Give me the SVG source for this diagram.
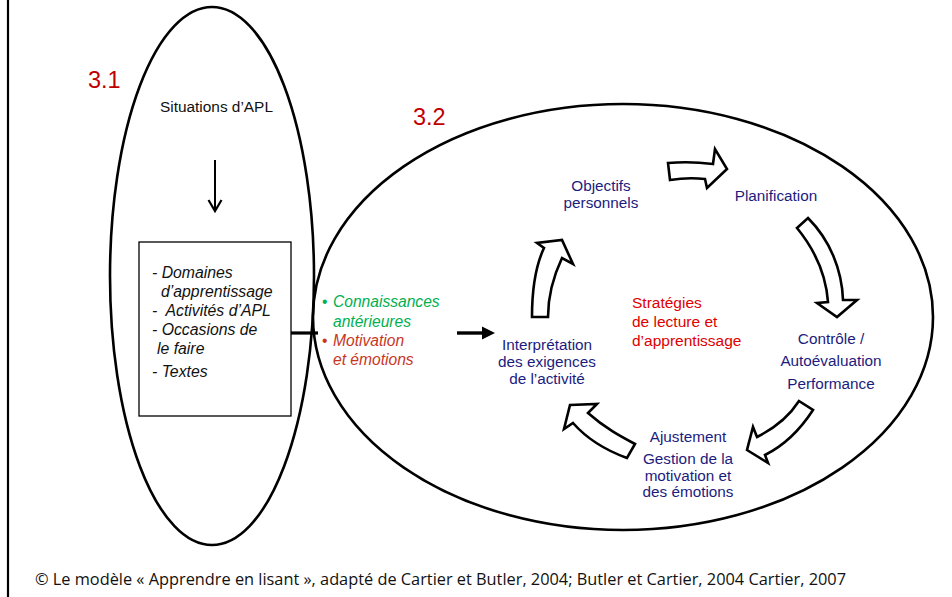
<svg xmlns="http://www.w3.org/2000/svg" width="952" height="597" viewBox="0 0 952 597">
<style>
.sans{font-family:"Liberation Sans",Arial,sans-serif}
.navy{fill:#1C1C80;font-size:15.3px;font-family:"Liberation Sans",Arial,sans-serif}
.red{fill:#E00000;font-size:15.5px;font-family:"Liberation Sans",Arial,sans-serif}
.num{fill:#C00000;font-size:23.5px;font-family:"Liberation Sans",Arial,sans-serif}
.box{fill:#111;font-size:15.8px;font-style:italic;font-family:"Liberation Sans",Arial,sans-serif}
.prior{font-size:15.6px;font-family:"Liberation Sans",Arial,sans-serif}
.blk{fill:#fff;stroke:#000;stroke-width:2.6;stroke-linejoin:miter}
.ell{fill:none;stroke:#000;stroke-width:2.6}
</style>
<rect width="952" height="597" fill="#fff"/>
<line x1="8" y1="0" x2="8" y2="597" stroke="#000" stroke-width="2.2"/>

<g id="zone31">
<ellipse class="ell" cx="212" cy="276" rx="102" ry="269"/>
<text class="num" x="88" y="88">3.1</text>
<text class="sans" x="160" y="112" font-size="15.4" fill="#111">Situations d’APL</text>
</g>

<g id="box">
<rect x="139" y="242" width="152" height="174" fill="#fff" stroke="#000" stroke-width="1.3"/>
<text class="box" x="152" y="278">- Domaines</text>
<text class="box" x="161" y="297">d’apprentissage</text>
<text class="box" x="152" y="316" xml:space="preserve">-  Activités d’APL</text>
<text class="box" x="152" y="335">- Occasions de</text>
<text class="box" x="157" y="354">le faire</text>
<text class="box" x="152" y="377">- Textes</text>
</g>

<g id="zone32">
<ellipse class="ell" cx="623" cy="317" rx="310" ry="213"/>
<text class="num" x="413" y="125">3.2</text>
</g>

<g id="prior">
<text x="322" y="307" fill="#00B050" class="prior">•</text>
<text x="333" y="307" fill="#00B050" font-style="italic" class="prior">Connaissances</text>
<text x="333" y="327" fill="#00B050" font-style="italic" class="prior">antérieures</text>
<text x="322" y="346" fill="#C8361E" class="prior">•</text>
<text x="333" y="346" fill="#C8361E" font-style="italic" class="prior">Motivation</text>
<text x="333" y="365" fill="#C8361E" font-style="italic" class="prior">et émotions</text>
</g>

<g id="interpretation">
<text class="navy" x="547" y="350" text-anchor="middle">Interprétation</text>
<text class="navy" x="547" y="367" text-anchor="middle">des exigences</text>
<text class="navy" x="547" y="384" text-anchor="middle">de l’activité</text>
</g>
<g id="objectifs">
<text class="navy" x="601" y="191" text-anchor="middle">Objectifs</text>
<text class="navy" x="601" y="208" text-anchor="middle">personnels</text>
</g>
<g id="planification">
<text class="navy" x="776" y="201" text-anchor="middle">Planification</text>
</g>
<g id="controle">
<text class="navy" x="831" y="344" text-anchor="middle">Contrôle /</text>
<text class="navy" x="831" y="366" text-anchor="middle">Autoévaluation</text>
<text class="navy" x="831" y="389" text-anchor="middle">Performance</text>
</g>
<g id="ajustement">
<text class="navy" x="688" y="442" text-anchor="middle">Ajustement</text>
<text class="navy" x="688" y="464" text-anchor="middle">Gestion de la</text>
<text class="navy" x="688" y="481" text-anchor="middle">motivation et</text>
<text class="navy" x="688" y="497" text-anchor="middle">des émotions</text>
</g>
<g id="strategies">
<text class="red" x="632" y="308">Stratégies</text>
<text class="red" x="632" y="327">de lecture et</text>
<text class="red" x="632" y="346">d’apprentissage</text>
</g>

<g id="connectors">
<line x1="215" y1="160" x2="215" y2="210" stroke="#000" stroke-width="2"/>
<polyline points="208.5,200 215,211 221.5,200" fill="none" stroke="#000" stroke-width="2.2"/>
<line x1="291" y1="333" x2="318" y2="333" stroke="#000" stroke-width="3.2"/>
<line x1="457" y1="333" x2="484" y2="333" stroke="#000" stroke-width="3.4"/>
<polygon points="482,326.5 495,333 482,339.5" fill="#000"/>
<path class="blk" d="M532,317 C532,290 536,265 544,248 L537,243 L562,240 L573,264 L562,258 C554,275 548,295 548,317 Z"/>
<path class="blk" d="M668,163 Q690,161 713,164 L715,149 L727,169 L707,188 L705,179 Q688,177 670,180 Z"/>
<path class="blk" d="M797,228 L808,218 C830,240 842,270 843,300 L857,300 L837,317 L817,303 L828,302 C826,275 815,250 797,228 Z"/>
<path class="blk" d="M799,401 L813,410 C800,430 785,445 765,455 L768,463 L747,450 L753,427 L757,437 C775,428 790,415 799,401 Z"/>
<path class="blk" d="M570,405 L597,404 L588,413 C605,428 620,436 635,444 L627,458 C605,450 588,440 573,423 L564,429 Z"/>
</g>

<text x="35" y="585" font-family="'Open Sans','Liberation Sans',sans-serif" font-size="16" fill="#111" textLength="811" lengthAdjust="spacingAndGlyphs">© Le modèle « Apprendre en lisant », adapté de Cartier et Butler, 2004; Butler et Cartier, 2004 Cartier, 2007</text>
</svg>
